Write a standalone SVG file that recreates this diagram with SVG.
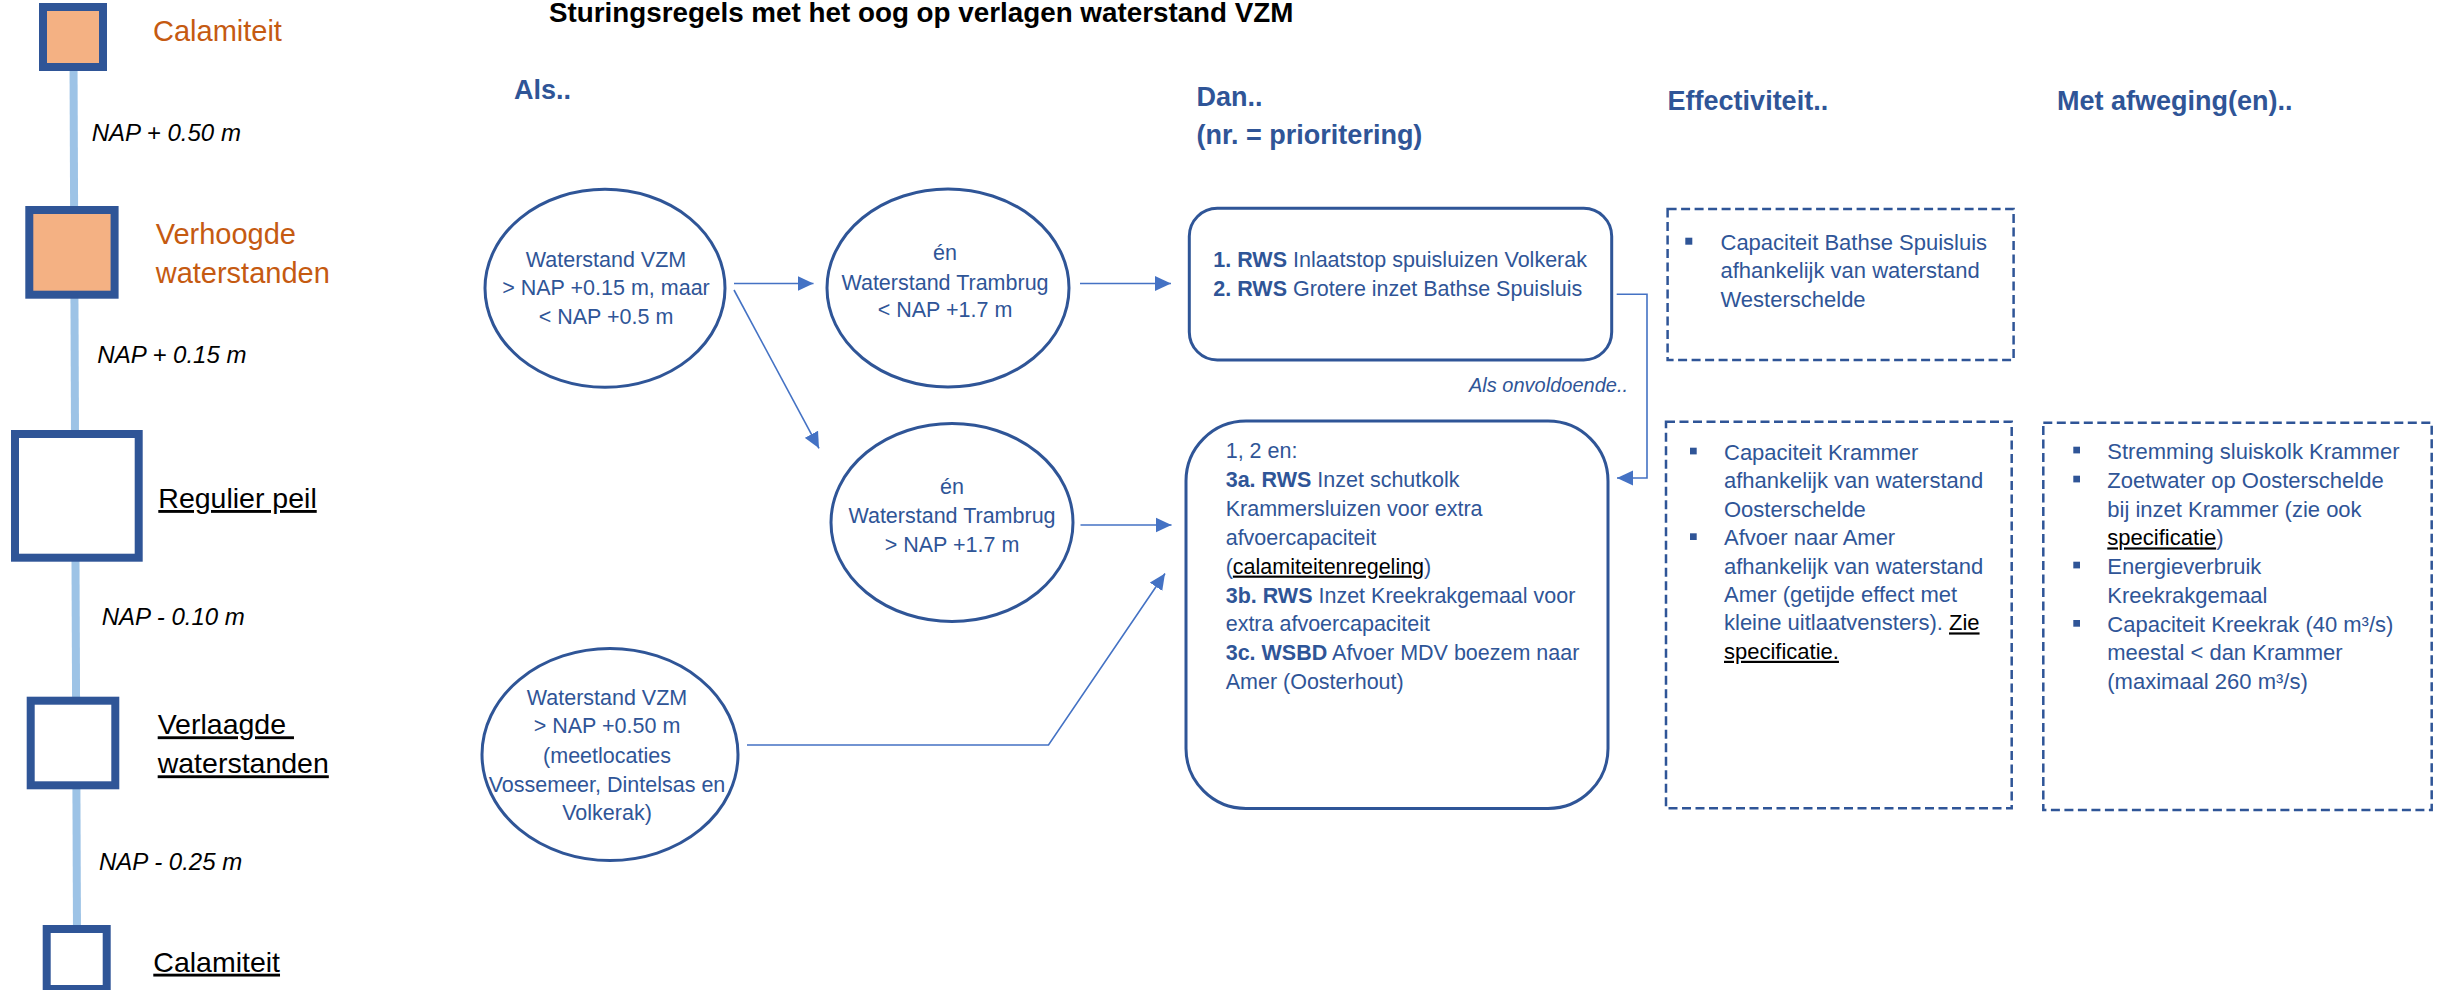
<svg xmlns="http://www.w3.org/2000/svg" width="2440" height="990" viewBox="0 0 2440 990">
<style>
  text { font-family: "Liberation Sans", Arial, sans-serif; }
  .lvl { fill: none; stroke: #2F5597; stroke-width: 8; }
  .or { fill: #F4B183; }
  .wh { fill: #FFFFFF; }
  .olab { fill: #C55A11; font-size: 29px; }
  .blab { fill: #000000; font-size: 28.5px; text-decoration: underline; }
  .nap { fill: #000000; font-size: 24px; font-style: italic; }
  .hdr { fill: #2F5597; font-size: 27px; font-weight: bold; }
  .node { fill: #FFFFFF; stroke: #2F5597; stroke-width: 3; }
  .dash { fill: #FFFFFF; stroke: #2F5597; stroke-width: 2.5; stroke-dasharray: 9 4.5; }
  .et { fill: #2F5597; font-size: 21.5px; text-anchor: middle; }
  .bt { fill: #2F5597; font-size: 21.5px; }
  .dt { fill: #2F5597; font-size: 22px; }
  .b { font-weight: bold; }
  .lnk { fill: #000000; text-decoration: underline; }
  .bul { fill: #2F5597; }
  .con { fill: none; stroke: #4472C4; stroke-width: 1.6; }
</style>
<defs>
  <marker id="arr" markerUnits="userSpaceOnUse" markerWidth="16" markerHeight="16" viewBox="0 0 16 16" refX="16" refY="8" orient="auto">
    <path d="M0,0.5 L16,8 L0,15.5 z" fill="#4472C4"/>
  </marker>
</defs>

<text x="549" y="22" font-size="27.8" font-weight="bold" fill="#000000">Sturingsregels met het oog op verlagen waterstand VZM</text>

<g id="scale">
  <line x1="73.5" y1="60" x2="77" y2="935" stroke="#9DC3E6" stroke-width="8"/>
  <g id="lvl-calamiteit-hoog">
    <rect class="lvl or" x="43" y="7" width="60" height="60"/>
    <text class="olab" x="153" y="40.7">Calamiteit</text>
  </g>
  <text class="nap" x="91.7" y="140.7">NAP + 0.50 m</text>
  <g id="lvl-verhoogd">
    <rect class="lvl or" x="29.3" y="210" width="85.3" height="84.7"/>
    <text class="olab" x="155.7" y="244">Verhoogde</text>
    <text class="olab" x="155.7" y="282.7">waterstanden</text>
  </g>
  <text class="nap" x="97.3" y="362.7">NAP + 0.15 m</text>
  <g id="lvl-regulier">
    <rect class="lvl wh" x="15" y="434" width="123.7" height="123.7"/>
    <text class="blab" x="158.3" y="508">Regulier peil</text>
  </g>
  <text class="nap" x="101.7" y="625">NAP - 0.10 m</text>
  <g id="lvl-verlaagd">
    <rect class="lvl wh" x="30.7" y="700.7" width="84.6" height="84.6"/>
    <text class="blab" x="157.7" y="734.3">Verlaagde&#160;</text>
    <text class="blab" x="157.7" y="773.3">waterstanden</text>
  </g>
  <text class="nap" x="99" y="870">NAP - 0.25 m</text>
  <g id="lvl-calamiteit-laag">
    <rect class="lvl wh" x="46.7" y="929" width="60" height="60"/>
    <text class="blab" x="153.3" y="971.7">Calamiteit</text>
  </g>
</g>

<g id="headers">
  <text class="hdr" x="514" y="99.3">Als..</text>
  <text class="hdr" x="1196.6" y="106">Dan..</text>
  <text class="hdr" x="1196.6" y="144">(nr. = prioritering)</text>
  <text class="hdr" x="1667.6" y="110">Effectiviteit..</text>
  <text class="hdr" x="2057" y="110">Met afweging(en)..</text>
</g>

<g id="connectors">
  <line class="con" x1="734" y1="283.5" x2="813.5" y2="283.5" marker-end="url(#arr)"/>
  <line class="con" x1="1080" y1="283.5" x2="1171" y2="283.5" marker-end="url(#arr)"/>
  <line class="con" x1="734" y1="290" x2="819" y2="448.3" marker-end="url(#arr)"/>
  <line class="con" x1="1080.5" y1="525" x2="1171.5" y2="525" marker-end="url(#arr)"/>
  <polyline class="con" points="747,745 1048.5,745 1165,573.5" marker-end="url(#arr)"/>
  <polyline class="con" points="1616.7,294.3 1647,294.3 1647,478 1617,478" marker-end="url(#arr)"/>
  <text x="1628" y="391.7" font-size="20" font-style="italic" fill="#2F5597" text-anchor="end">Als onvoldoende..</text>
</g>

<g id="als-vzm-015">
  <ellipse class="node" cx="605" cy="288.3" rx="120" ry="99"/>
  <text class="et" x="606" y="266.7">Waterstand VZM</text>
  <text class="et" x="606" y="295.3">&gt; NAP +0.15 m, maar</text>
  <text class="et" x="606" y="324">&lt; NAP +0.5 m</text>
</g>

<g id="en-trambrug-laag">
  <ellipse class="node" cx="948" cy="288" rx="121" ry="99"/>
  <text class="et" x="945" y="260">én</text>
  <text class="et" x="945" y="290">Waterstand Trambrug</text>
  <text class="et" x="945" y="317.3">&lt; NAP +1.7 m</text>
</g>

<g id="en-trambrug-hoog">
  <ellipse class="node" cx="952" cy="522.5" rx="121" ry="99"/>
  <text class="et" x="952" y="494.3">én</text>
  <text class="et" x="952" y="523.3">Waterstand Trambrug</text>
  <text class="et" x="952" y="551.7">&gt; NAP +1.7 m</text>
</g>

<g id="als-vzm-050">
  <ellipse class="node" cx="610" cy="754.5" rx="128" ry="106"/>
  <text class="et" x="607" y="705">Waterstand VZM</text>
  <text class="et" x="607" y="733.3">&gt; NAP +0.50 m</text>
  <text class="et" x="607" y="762.7">(meetlocaties</text>
  <text class="et" x="607" y="791.7">Vossemeer, Dintelsas en</text>
  <text class="et" x="607" y="820">Volkerak)</text>
</g>

<g id="dan-1-2">
  <rect class="node" x="1189.3" y="208.3" width="422.4" height="151.7" rx="28" ry="28"/>
  <text class="bt" x="1213.3" y="267.3"><tspan class="b">1. RWS</tspan> Inlaatstop spuisluizen Volkerak</text>
  <text class="bt" x="1213.3" y="296"><tspan class="b">2. RWS</tspan> Grotere inzet Bathse Spuisluis</text>
</g>

<g id="dan-3">
  <rect class="node" x="1186" y="421" width="422" height="387.5" rx="60" ry="60"/>
  <text class="bt" x="1225.7" y="458">1, 2 en:</text>
  <text class="bt" x="1225.7" y="486.9"><tspan class="b">3a. RWS</tspan> Inzet schutkolk</text>
  <text class="bt" x="1225.7" y="515.8">Krammersluizen voor extra</text>
  <text class="bt" x="1225.7" y="544.7">afvoercapaciteit</text>
  <text class="bt" x="1225.7" y="573.6">(<tspan class="lnk">calamiteitenregeling</tspan>)</text>
  <text class="bt" x="1225.7" y="602.5"><tspan class="b">3b. RWS</tspan> Inzet Kreekrakgemaal voor</text>
  <text class="bt" x="1225.7" y="631.4">extra afvoercapaciteit</text>
  <text class="bt" x="1225.7" y="660.3"><tspan class="b">3c. WSBD</tspan> Afvoer MDV boezem naar</text>
  <text class="bt" x="1225.7" y="689.2">Amer (Oosterhout)</text>
</g>

<g id="effectiviteit-1">
  <rect class="dash" x="1667.6" y="209" width="346" height="151"/>
  <rect class="bul" x="1685.3" y="237.7" width="7" height="7"/>
  <text class="dt" x="1720.5" y="250">Capaciteit Bathse Spuisluis</text>
  <text class="dt" x="1720.5" y="278.3">afhankelijk van waterstand</text>
  <text class="dt" x="1720.5" y="306.7">Westerschelde</text>
</g>

<g id="effectiviteit-2">
  <rect class="dash" x="1666" y="421.7" width="345.7" height="386.6"/>
  <rect class="bul" x="1690" y="447.7" width="6.7" height="6.7"/>
  <rect class="bul" x="1690" y="533.3" width="6.7" height="6.7"/>
  <text class="dt" x="1724" y="460">Capaciteit Krammer</text>
  <text class="dt" x="1724" y="488.4">afhankelijk van waterstand</text>
  <text class="dt" x="1724" y="516.8">Oosterschelde</text>
  <text class="dt" x="1724" y="545.2">Afvoer naar Amer</text>
  <text class="dt" x="1724" y="573.6">afhankelijk van waterstand</text>
  <text class="dt" x="1724" y="602">Amer (getijde effect met</text>
  <text class="dt" x="1724" y="630.4">kleine uitlaatvensters). <tspan class="lnk">Zie</tspan></text>
  <text class="dt" x="1724" y="658.8"><tspan class="lnk">specificatie.</tspan></text>
</g>

<g id="afweging">
  <rect class="dash" x="2043.3" y="422.7" width="388.4" height="387.3"/>
  <rect class="bul" x="2073.3" y="446.7" width="6.7" height="6.7"/>
  <rect class="bul" x="2073.3" y="475.7" width="6.7" height="6.7"/>
  <rect class="bul" x="2073.3" y="561.7" width="6.7" height="6.7"/>
  <rect class="bul" x="2073.3" y="620" width="6.7" height="6.7"/>
  <text class="dt" x="2107.3" y="459.3">Stremming sluiskolk Krammer</text>
  <text class="dt" x="2107.3" y="488">Zoetwater op Oosterschelde</text>
  <text class="dt" x="2107.3" y="516.7">bij inzet Krammer (zie ook</text>
  <text class="dt" x="2107.3" y="545.4"><tspan class="lnk">specificatie</tspan>)</text>
  <text class="dt" x="2107.3" y="574.1">Energieverbruik</text>
  <text class="dt" x="2107.3" y="602.8">Kreekrakgemaal</text>
  <text class="dt" x="2107.3" y="631.5">Capaciteit Kreekrak (40 m³/s)</text>
  <text class="dt" x="2107.3" y="660.2">meestal &lt; dan Krammer</text>
  <text class="dt" x="2107.3" y="688.9">(maximaal 260 m³/s)</text>
</g>
</svg>
